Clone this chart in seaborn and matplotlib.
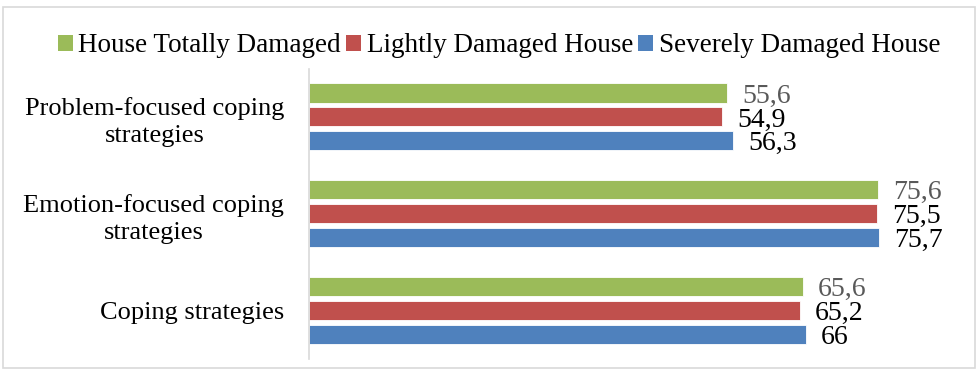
import pandas as pd
import matplotlib.pyplot as plt
import seaborn as sns
from matplotlib.patches import Rectangle, Patch

categories = ["Problem-focused coping\nstrategies", "Emotion-focused coping\nstrategies", "Coping strategies"]
series = ["House Totally Damaged", "Lightly Damaged House", "Severely Damaged House"]
totally = [55.6, 75.6, 65.6]
lightly = [54.9, 75.5, 65.2]
severely = [56.3, 75.7, 66.0]
colors = ["#9BBB59", "#C0504D", "#4F81BD"]

rows = []
for name, vals in zip(series, [totally, lightly, severely]):
    for cat, v in zip(categories, vals):
        rows.append({"Category": cat, "Group": name, "Value": v})
df = pd.DataFrame(rows)

sns.set_style("white")
plt.rcParams["font.family"] = ["Liberation Serif", "DejaVu Serif"]
plt.rcParams["text.color"] = "black"
plt.rcParams["ytick.color"] = "black"

fig = plt.figure(figsize=(9.8, 3.71), dpi=100)
ax = fig.add_axes([309 / 980, 12 / 371, (911 - 309) / 980, 290.5 / 371])

sns.barplot(data=df, y="Category", x="Value", hue="Group", palette=colors,
            orient="h", width=0.74, gap=0.2, ax=ax, legend=False, saturation=1,
            edgecolor="white", linewidth=0.6)

ax.set_xlim(0, 80)
ax.set_ylim(2.5, -0.5)
ax.set_xlabel("")
ax.set_ylabel("")
ax.set_xticks([])
ax.tick_params(axis="y", length=0, pad=18, labelsize=19, labelcolor="black")
for lbl in ax.get_yticklabels():
    lbl.set_multialignment("center")
    lbl.set_linespacing(1.3)
for s in ["top", "right", "bottom"]:
    ax.spines[s].set_visible(False)
ax.spines["left"].set_color("#d9d9d9")
ax.spines["left"].set_linewidth(1.2)

# value labels, green series in grey
label_colors = ["#595959", "black", "black"]
for cont, lc in zip(ax.containers, label_colors):
    labels = [("%g" % v).replace(".", ",") for v in cont.datavalues]
    texts = ax.bar_label(cont, labels=labels, padding=11, fontsize=20, color=lc, clip_on=False)
    for t in texts:
        t.set_va("center_baseline")

handles = [Patch(facecolor=c, edgecolor="none") for c in colors]
fig.legend(handles, series, loc="center", bbox_to_anchor=(499 / 980, 1 - 46 / 371),
           ncol=3, frameon=False, fontsize=19.5, handlelength=0.55, handleheight=0.55,
           handletextpad=0.2, columnspacing=0.2)

fig.patches.append(Rectangle((3 / 980, 3 / 371), 972 / 980, 361 / 371, transform=fig.transFigure,
                             fill=False, edgecolor="#d9d9d9", linewidth=1.2))

fig.savefig("out.png", dpi=100)
